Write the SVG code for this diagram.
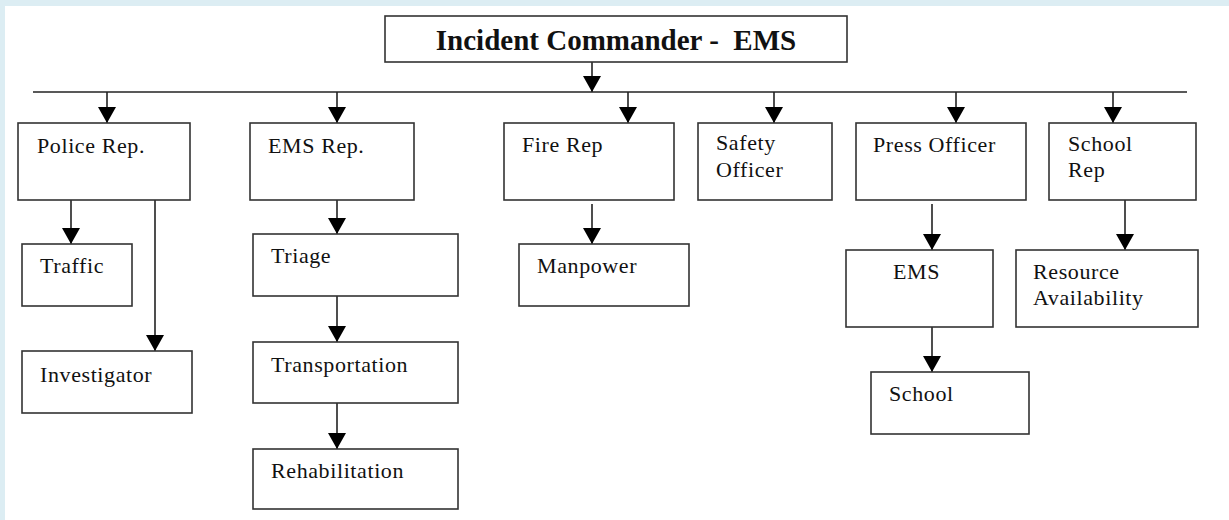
<svg xmlns="http://www.w3.org/2000/svg" width="1229" height="520" viewBox="0 0 1229 520">
<defs>
<marker id="ah" markerWidth="16" markerHeight="18" refX="16" refY="9" orient="auto" markerUnits="userSpaceOnUse" viewBox="0 0 16 18">
<path d="M0,0 L16,9 L0,18 Z" fill="#000"/>
</marker>
</defs>
<style>
.bg{fill:#dcedf3}
.box{fill:#fff;stroke:#333;stroke-width:1.6}
.lbl{font-family:"Liberation Serif","Times New Roman",serif;font-size:22px;fill:#111;letter-spacing:0.6px}
.title{font-family:"Liberation Serif","Times New Roman",serif;font-size:29px;font-weight:bold;fill:#111;white-space:pre}
.ln{stroke:#222;stroke-width:1.6;fill:none}
.ar{stroke:#222;stroke-width:1.6;fill:none;marker-end:url(#ah)}
</style>
<rect x="0" y="0" width="1229" height="520" fill="#fff"/>
<rect class="bg" x="0" y="0" width="1229" height="6"/>
<rect class="bg" x="0" y="0" width="5" height="520"/>

<g id="connectors">
<path class="ar" d="M592,62 V92"/>
<path class="ln" d="M33,92 H1187"/>
<path class="ar" d="M107,92 V123"/>
<path class="ar" d="M337,92 V123"/>
<path class="ar" d="M628,92 V123"/>
<path class="ar" d="M774,92 V123"/>
<path class="ar" d="M956,92 V123"/>
<path class="ar" d="M1113,92 V123"/>
<path class="ar" d="M71,200 V244"/>
<path class="ar" d="M155,200 V351"/>
<path class="ar" d="M337,189 V234"/>
<path class="ar" d="M337,296 V342"/>
<path class="ar" d="M337,403 V449"/>
<path class="ar" d="M592,204 V244"/>
<path class="ar" d="M932,204 V250"/>
<path class="ar" d="M932,327 V372"/>
<path class="ar" d="M1125,200 V250"/>
</g>

<g id="incident-commander">
<rect class="box" x="385" y="16" width="462" height="46"/>
<text class="title" x="616" y="50" text-anchor="middle">Incident Commander -  EMS</text>
</g>

<g id="police-rep">
<rect class="box" x="18" y="123" width="172" height="77"/>
<text class="lbl" x="37" y="153">Police Rep.</text>
</g>
<g id="ems-rep">
<rect class="box" x="250" y="123" width="164" height="77"/>
<text class="lbl" x="268" y="153">EMS Rep.</text>
</g>
<g id="fire-rep">
<rect class="box" x="504" y="123" width="170" height="77"/>
<text class="lbl" x="522" y="152">Fire Rep</text>
</g>
<g id="safety-officer">
<rect class="box" x="698" y="123" width="134" height="77"/>
<text class="lbl" x="716" y="150">Safety</text>
<text class="lbl" x="716" y="177">Officer</text>
</g>
<g id="press-officer">
<rect class="box" x="856" y="123" width="170" height="77"/>
<text class="lbl" x="873" y="152">Press Officer</text>
</g>
<g id="school-rep">
<rect class="box" x="1049" y="123" width="147" height="77"/>
<text class="lbl" x="1068" y="151">School</text>
<text class="lbl" x="1068" y="177">Rep</text>
</g>

<g id="traffic">
<rect class="box" x="22" y="244" width="110" height="62"/>
<text class="lbl" x="40" y="273">Traffic</text>
</g>
<g id="investigator">
<rect class="box" x="22" y="351" width="170" height="62"/>
<text class="lbl" x="40" y="382">Investigator</text>
</g>
<g id="triage">
<rect class="box" x="253" y="234" width="205" height="62"/>
<text class="lbl" x="271" y="263">Triage</text>
</g>
<g id="transportation">
<rect class="box" x="253" y="342" width="205" height="61"/>
<text class="lbl" x="271" y="372">Transportation</text>
</g>
<g id="rehabilitation">
<rect class="box" x="253" y="449" width="205" height="60"/>
<text class="lbl" x="271" y="478">Rehabilitation</text>
</g>
<g id="manpower">
<rect class="box" x="519" y="244" width="170" height="62"/>
<text class="lbl" x="537" y="273">Manpower</text>
</g>
<g id="ems">
<rect class="box" x="846" y="250" width="147" height="77"/>
<text class="lbl" x="893" y="279">EMS</text>
</g>
<g id="school">
<rect class="box" x="871" y="372" width="158" height="62"/>
<text class="lbl" x="889" y="401">School</text>
</g>
<g id="resource-availability">
<rect class="box" x="1016" y="250" width="182" height="77"/>
<text class="lbl" x="1033" y="279">Resource</text>
<text class="lbl" x="1033" y="305">Availability</text>
</g>
</svg>
